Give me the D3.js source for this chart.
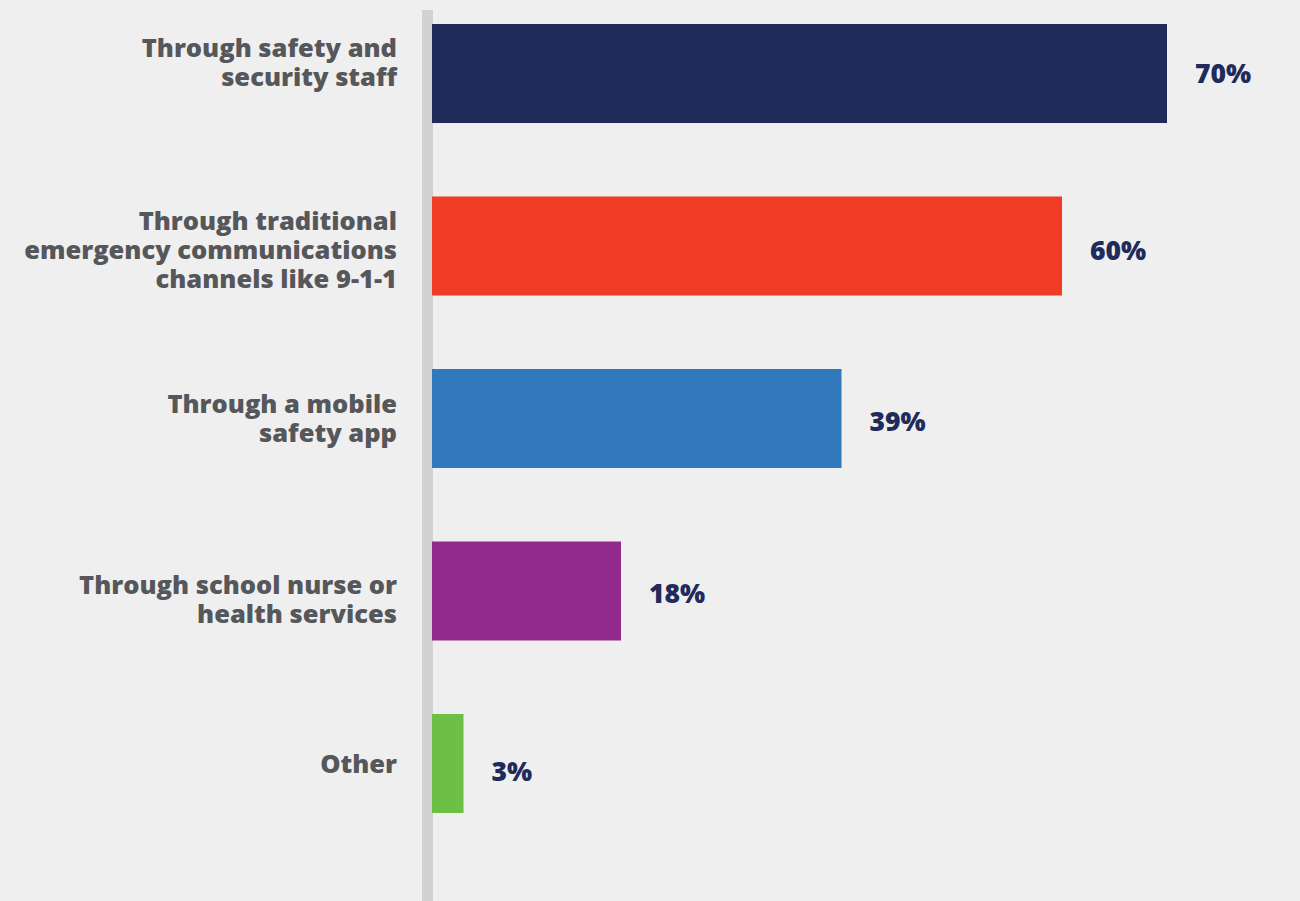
<!DOCTYPE html>
<html>
<head>
<meta charset="utf-8">
<script src="https://cdn.jsdelivr.net/npm/d3@7"></script>
<style>
  html, body { margin: 0; padding: 0; background: #efefef; }
  svg { display: block; }
</style>
</head>
<body>
<svg id="chart" width="1300" height="901"></svg>
<script>
// Response channels and share of respondents (%)
const categories = [
  ["Through safety and", "security staff"],
  ["Through traditional", "emergency communications", "channels like 9-1-1"],
  ["Through a mobile", "safety app"],
  ["Through school nurse or", "health services"],
  ["Other"]
];
const values = [70, 60, 39, 18, 3];
const colors = ["#1f2b5b", "#f03c24", "#3278bd", "#922a8c", "#6dbf45"];

// small vertical nudges (px) applied to the text blocks
const catNudge = [-11, 4, 0, 8, 0];
const valNudge = [0, 4, 3, 2, 8];

const W = 1300, H = 901;
const svg = d3.select("#chart");

svg.append("rect").attr("width", W).attr("height", H).attr("fill", "#efefef");

const x = d3.scaleLinear().domain([0, 100]).range([432, 1482]);
const y = d3.scaleBand()
  .domain(d3.range(values.length))
  .range([24, 813])
  .paddingInner(0.426)
  .paddingOuter(0);

// vertical baseline band
svg.append("rect")
  .attr("x", 422).attr("y", 10)
  .attr("width", 11).attr("height", H - 10)
  .attr("fill", "#d1d2d4");

svg.selectAll("rect.bar")
  .data(values)
  .join("rect")
  .attr("class", "bar")
  .attr("x", x(0))
  .attr("y", (d, i) => y(i))
  .attr("width", d => x(d) - x(0))
  .attr("height", y.bandwidth())
  .attr("fill", (d, i) => colors[i]);

// value labels
svg.selectAll("text.val")
  .data(values)
  .join("text")
  .attr("class", "val")
  .attr("x", d => x(d) + 28)
  .attr("y", (d, i) => y(i) + y.bandwidth() / 2 + valNudge[i])
  .attr("dy", "0.36em")
  .attr("fill", "#1f2b5b")
  .attr("font-family", "'Open Sans', sans-serif")
  .attr("font-weight", 800)
  .attr("font-size", 26.5)
  .text(d => d + "%");

// category labels
const lineH = 29;
const lab = svg.selectAll("text.cat")
  .data(categories)
  .join("text")
  .attr("class", "cat")
  .attr("text-anchor", "end")
  .attr("fill", "#55575a")
  .attr("font-family", "'Open Sans', sans-serif")
  .attr("font-weight", 800)
  .attr("font-size", 25.5)
  .attr("transform", (d, i) => `translate(397,${y(i) + y.bandwidth() / 2 + catNudge[i]})`);

lab.selectAll("tspan")
  .data(d => d.map((t, k) => ({ t, k, n: d.length })))
  .join("tspan")
  .attr("x", 0)
  .attr("y", o => (o.k - (o.n - 1) / 2) * lineH)
  .attr("dy", "0.36em")
  .text(o => o.t);
</script>
</body>
</html>
